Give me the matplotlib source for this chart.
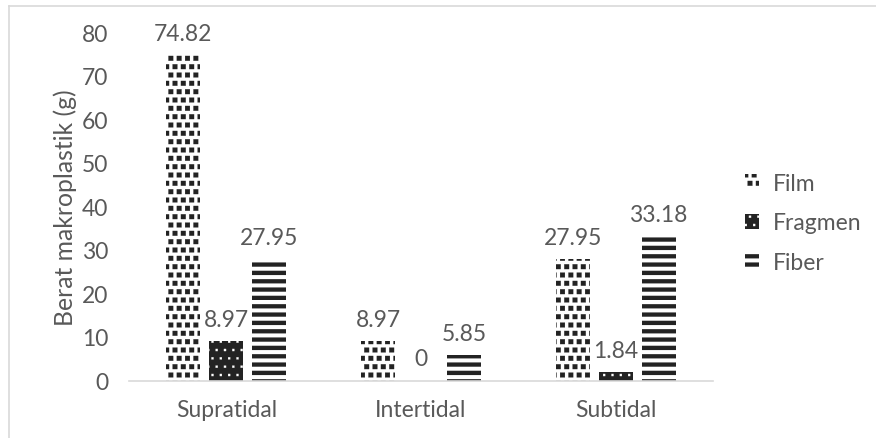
import warnings
import numpy as np
import matplotlib
matplotlib.use("Agg")
import matplotlib.pyplot as plt
import matplotlib.hatch as mhatch
from matplotlib.path import Path

warnings.filterwarnings("ignore")

zones = ["Supratidal", "Intertidal", "Subtidal"]
series = ["Film", "Fragmen", "Fiber"]
film = [74.82, 8.97, 27.95]
fragmen = [8.97, 0, 1.84]
fiber = [27.95, 5.85, 33.18]
y_ticks = [0, 10, 20, 30, 40, 50, 60, 70, 80]

GREY = "#595959"
DARK = "#232323"
LINE = "#d9d9d9"

SQ = np.array([[-0.5, -0.5], [0.5, -0.5], [0.5, 0.5], [-0.5, 0.5], [-0.5, -0.5]])
SQ_CODES = np.array([Path.MOVETO, Path.LINETO, Path.LINETO, Path.LINETO,
                     Path.CLOSEPOLY], dtype=Path.code_type)


# confetti squares for Film
class BigSquares(mhatch.Shapes):
    size = 0.58
    filled = True

    def __init__(self, hatch, density):
        self.num_rows = hatch.count("s") * density
        self.shape_vertices = SQ
        self.shape_codes = SQ_CODES
        super().__init__(hatch, density)


# small dots for Fragmen
class SmallSquares(mhatch.Shapes):
    size = 0.26
    filled = True

    def __init__(self, hatch, density):
        self.num_rows = hatch.count("q") * density
        self.shape_vertices = SQ
        self.shape_codes = SQ_CODES
        super().__init__(hatch, density)


# thick horizontal bands for Fiber
class Bands(mhatch.HatchPatternBase):
    def __init__(self, hatch, density):
        self.num_lines = hatch.count("h") * density
        self.num_vertices = self.num_lines * 5

    def set_vertices_and_codes(self, vertices, codes):
        step = 1.0 / self.num_lines
        th = 0.5 * step
        for i in range(self.num_lines):
            y0 = i * step
            vertices[i * 5:(i + 1) * 5] = [[0, y0], [1, y0], [1, y0 + th],
                                           [0, y0 + th], [0, y0]]
            codes[i * 5:(i + 1) * 5] = SQ_CODES


mhatch._hatch_types.extend([BigSquares, SmallSquares, Bands])

plt.rcParams["font.family"] = ["Lato", "DejaVu Sans"]
plt.rcParams["hatch.linewidth"] = 0.1
FS = 16.5

fig = plt.figure(figsize=(8.76, 4.39), dpi=100)
ax = fig.add_axes([129 / 876, 1 - 381.5 / 439, 584 / 876, 348 / 439])

x = np.arange(len(zones))
w = 0.175
step = 0.221
styles = [
    dict(facecolor="white", edgecolor=DARK, hatch="ss"),
    dict(facecolor=DARK, edgecolor="white", hatch="qq"),
    dict(facecolor="white", edgecolor=DARK, hatch="hh"),
]
for i, (name, vals) in enumerate(zip(series, [film, fragmen, fiber])):
    bars = ax.bar(x + (i - 1) * step, vals, w, label=name, linewidth=0,
                  **styles[i])
    ax.bar_label(bars, labels=[f"{v:g}" for v in vals], padding=8,
                 fontsize=FS, color=GREY)

ax.set_xlim(-0.5, 2.5)
ax.set_ylim(0, 80)
ax.set_yticks(y_ticks)
ax.set_xticks(x)
ax.set_xticklabels(zones)
ax.tick_params(axis="y", length=0, pad=15, labelsize=FS, labelcolor=GREY)
ax.tick_params(axis="x", length=0, pad=13, labelsize=FS, labelcolor=GREY)
for s in ["top", "right", "left"]:
    ax.spines[s].set_visible(False)
ax.spines["bottom"].set_color(LINE)
ax.spines["bottom"].set_linewidth(1.2)

ax.set_ylabel("Berat makroplastik (g)", fontsize=17.8, color=GREY)
ax.yaxis.label.set_va("center")
ax.yaxis.set_label_coords(-0.11, 0.5)

fig.legend(loc="center left", bbox_to_anchor=(745 / 876, 1 - 224 / 439),
           frameon=False, fontsize=FS, labelcolor=GREY, handlelength=0.6,
           handleheight=0.6, handletextpad=0.6, labelspacing=0.82,
           borderpad=0, borderaxespad=0)

# chart area border (top and left only visible)
fig.add_artist(plt.Line2D([9 / 876, 1], [1 - 7 / 439, 1 - 7 / 439],
                          transform=fig.transFigure, color=LINE, lw=1.2))
fig.add_artist(plt.Line2D([9 / 876, 9 / 876], [0, 1 - 7 / 439],
                          transform=fig.transFigure, color=LINE, lw=1.2))

fig.savefig("out.png", dpi=100)
